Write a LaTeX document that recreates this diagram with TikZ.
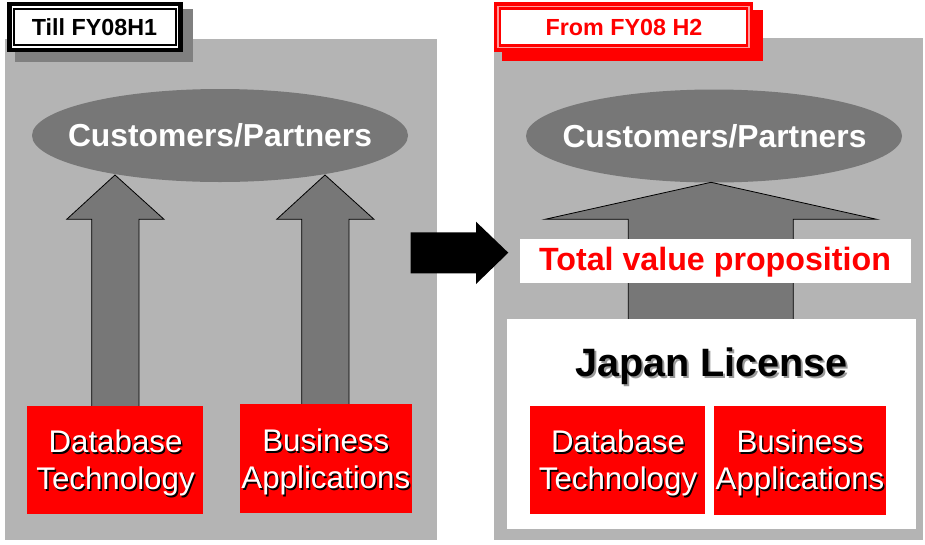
\documentclass[tikz,border=0pt]{standalone}
\usepackage{fontspec}
\setmainfont{Liberation Sans}
\usetikzlibrary{shapes.geometric}

\definecolor{panelgray}{HTML}{B4B4B4}
\definecolor{midgray}{HTML}{777777}
\definecolor{shadegray}{HTML}{808080}
\definecolor{brightred}{HTML}{FF0000}
\definecolor{palered}{HTML}{FF9A9A}

% white label with a black drop shadow
\newcommand\shadedlabel[4]{%
  \node[boxshade] (#1s) at ([shift={(1.5,1.5)}]#2,#3) {#4};
  \node[boxtext] (#1) at (#2,#3) {#4};}

\begin{document}
\begin{tikzpicture}[x=1pt,y=-1pt,
  panel/.style={fill=panelgray},
  redbox/.style={rectangle, fill=brightred, draw=none, inner sep=0pt},
  boxtext/.style={text=white, font=\fontsize{31.3}{37}\selectfont, align=center, inner sep=0pt},
  boxshade/.style={boxtext, text=black},
  blockarrow/.style={fill=midgray, draw=black, line width=0.8pt, line join=miter},
  customers/.style={ellipse, fill=midgray, draw=none, minimum width=376pt, minimum height=93pt, inner sep=0pt},
  custtext/.style={text=white, font=\fontsize{31.8}{38}\selectfont\bfseries, anchor=base, inner sep=0pt},
  titletext/.style={font=\fontsize{23.3}{28}\selectfont\bfseries, anchor=base, inner sep=0pt},
  whitebox/.style={rectangle, fill=white, draw=none, inner sep=0pt}
]
\useasboundingbox (0,0) rectangle (925,544);

% the two grey panels
\fill[panel] (5,39) rectangle (437,540);
\fill[panel] (493.5,37.5) rectangle (923,540);

% left heading: grey shadow and double black frame
\fill[shadegray] (15,9) rectangle (193,62);
\draw[fill=white, line width=4.3pt] (9.4,4.2) rectangle (180.6,49.8);
\draw[line width=1.7pt] (14.2,9.0) rectangle (175.8,45.0);
\node[titletext] (till) at (94.5,35) {Till FY08H1};

% right heading: red shadow and double red frame
\fill[brightred] (502,10) rectangle (763,61);
\draw[brightred, fill=white, line width=7.3pt] (497.2,5.9) rectangle (749.6,48.1);
\draw[palered, line width=1.3pt] (497.9,6.6) rectangle (748.9,47.4);
\node[titletext, text=brightred] (from) at (624,35) {From FY08 H2};

% customer ellipses
\node[customers] (custL) at (220,135.5) {};
\node[custtext] (custLt) at (220,146.7) {Customers/Partners};
\node[customers] (custR) at (714,136) {};
\node[custtext] (custRt) at (714.5,147.3) {Customers/Partners};

% two upward block arrows on the left
\draw[blockarrow] (115,175) -- (164,219.3) -- (139,219.3) -- (139,408)
  -- (91.7,408) -- (91.7,219.3) -- (66.7,219.3) -- cycle;
\draw[blockarrow] (325,175) -- (374,219.3) -- (349,219.3) -- (349,406)
  -- (301.7,406) -- (301.7,219.3) -- (276.7,219.3) -- cycle;

% wide upward block arrow on the right
\draw[blockarrow] (711,182.3) -- (876.7,219.3) -- (793.3,219.3) -- (793.3,321)
  -- (628.3,321) -- (628.3,219.3) -- (545,219.3) -- cycle;

% black transition arrow between the panels
\fill[black] (410.7,232.3) -- (476,232.3) -- (476,221.7) -- (508.3,252.7)
  -- (476,284) -- (476,273.3) -- (410.7,273.3) -- cycle;

% left red boxes
\node[redbox, minimum width=175.4pt, minimum height=108pt] (dbL) at (115,459.7) {};
\node[redbox, minimum width=171.7pt, minimum height=109pt] (baL) at (325.8,458.8) {};
\shadedlabel{dbLt}{115.5}{463.3}{Database\\Technology}
\shadedlabel{baLt}{325.8}{462.2}{Business\\Applications}

% total value proposition banner
\node[whitebox, minimum width=391pt, minimum height=44.3pt] (tvpbox) at (715.5,261.2) {};
\node[custtext, text=brightred, font=\fontsize{32.2}{38}\selectfont\bfseries] (tvp) at (715,270) {Total value proposition};

% Japan License block with a soft grey drop shadow
\node[whitebox, minimum width=408.7pt, minimum height=210pt] (jlbox) at (711.7,424) {};
\node[custtext, text=panelgray!85!black, font=\fontsize{39.6}{46}\selectfont\bfseries] (jls) at (713.5,378.7) {Japan License};
\node[custtext, text=black, font=\fontsize{39.6}{46}\selectfont\bfseries] (jl) at (711.5,376.7) {Japan License};

\node[redbox, minimum width=175pt, minimum height=108pt] (dbR) at (617.5,460) {};
\node[redbox, minimum width=171.4pt, minimum height=108.7pt] (baR) at (800,460.3) {};
\shadedlabel{dbRt}{618}{463.3}{Database\\Technology}
\shadedlabel{baRt}{800}{463.3}{Business\\Applications}

\end{tikzpicture}
\end{document}
